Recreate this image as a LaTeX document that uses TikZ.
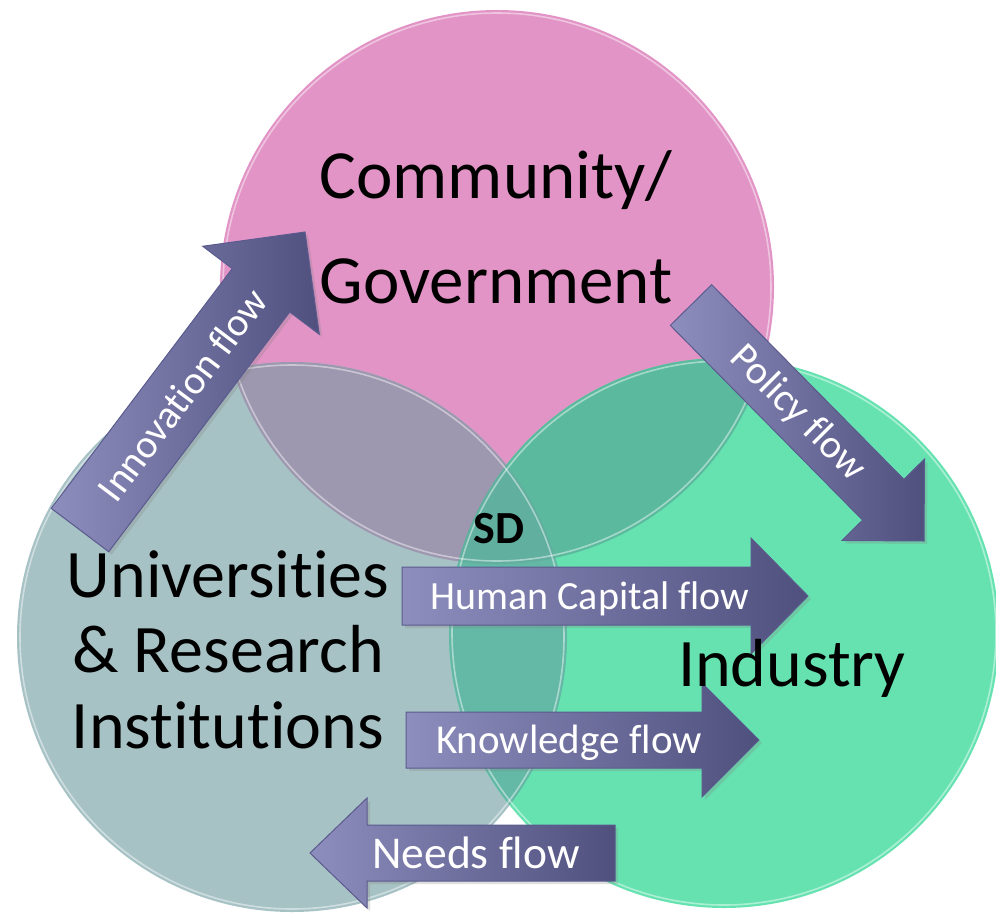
\documentclass[tikz,border=0pt]{standalone}
\usepackage{fontspec}
\setmainfont{Carlito}[Ligatures={NoCommon,NoContextual}]
\usepackage{tikz}
\usetikzlibrary{
    calc,
    shadows
}
\definecolor{commfill}{HTML}{E294C6}
\definecolor{univfill}{HTML}{A7C2C5}
\definecolor{indfill}{HTML}{66E2B1}
\definecolor{communiv}{HTML}{9D97AF}
\definecolor{commind}{HTML}{5BBA9E}
\definecolor{univind}{HTML}{64B8A6}
\definecolor{coreall}{HTML}{60AF9F}
\definecolor{flowlight}{HTML}{8E8EBE}
\definecolor{flowdark}{HTML}{50507F}
\definecolor{flowborder}{HTML}{5A5A8E}
\tikzset{
    flow arrow/.style={
        left color=flowlight, right color=flowdark,
        draw=flowborder, line width=1pt, line join=miter,
        drop shadow={opacity=0.25, shadow xshift=3pt, shadow yshift=-3pt}
    },
    flow label/.style={
        text=white, inner sep=0pt
    },
    sector label/.style={
        text=black, align=center, inner sep=0pt
    },
    rim/.style={
        draw=white, draw opacity=0.45, line width=1.6pt
    },
}
% block arrow from (<name> tail) to (<name> tip)
% #2 half shaft width, #3 half head width, #4 head length
\newcommand{\blockarrow}[4]{%
    \coordinate (#1 neck) at ($(#1 tip)!#4!(#1 tail)$);
    \path[flow arrow]
        ($(#1 tail)!#2!90:(#1 tip)$) -- ($(#1 neck)!#2!90:(#1 tip)$)
        -- ($(#1 neck)!#3!90:(#1 tip)$) -- (#1 tip)
        -- ($(#1 neck)!#3!-90:(#1 tip)$) -- ($(#1 neck)!#2!-90:(#1 tip)$)
        -- ($(#1 tail)!#2!-90:(#1 tip)$) -- cycle;
}

\begin{document}
\begin{tikzpicture}[x=1pt, y=-1pt]
    \useasboundingbox (0,0) rectangle (996,913);

    % the three sectors
    \coordinate (comm) at (497,287);
    \coordinate (univ) at (292,637);
    \coordinate (ind) at (724,633);

    \fill[commfill] (comm) circle[radius=277];
    \fill[univfill] (univ) circle[radius=275];
    \fill[indfill] (ind) circle[radius=275];

    % overlaps
    \begin{scope}
        \clip (univ) circle[radius=275];
        \fill[univind] (ind) circle[radius=275];
    \end{scope}
    \begin{scope}
        \clip (comm) circle[radius=277];
        \fill[communiv] (univ) circle[radius=275];
        \fill[commind] (ind) circle[radius=275];
        \clip (univ) circle[radius=275];
        \fill[coreall] (ind) circle[radius=275];
    \end{scope}

    % glossy edges
    \path[rim] (comm) circle[radius=274];
    \path[rim] (univ) circle[radius=272];
    \path[rim] (ind) circle[radius=272];

    % flows
    \coordinate (innov tail) at (80,530);
    \coordinate (innov tip) at (305,232);
    \coordinate (policy tail) at (691,305);
    \coordinate (policy tip) at (924,541);
    \coordinate (human tail) at (402,596);
    \coordinate (human tip) at (808,596);
    \coordinate (know tail) at (406,740);
    \coordinate (know tip) at (759,740);
    \coordinate (needs tail) at (615,853);
    \coordinate (needs tip) at (310,853);

    \blockarrow{innov}{36pt}{73pt}{73pt}
    \blockarrow{policy}{29pt}{58pt}{58pt}
    \blockarrow{human}{29pt}{58pt}{57pt}
    \blockarrow{know}{28pt}{57pt}{57pt}
    \blockarrow{needs}{28pt}{55pt}{57pt}

    \node[flow label, font=\fontsize{40}{48}\selectfont, rotate=53]
        (innov label) at ($(innov tail)!170pt!(innov tip)$) {Innovation flow};
    \node[flow label, font=\fontsize{40}{48}\selectfont, rotate=-45]
        (policy label) at ($(policy tail)!152pt!(policy tip)$) {Policy flow};
    \node[flow label, font=\fontsize{40}{48}\selectfont, anchor=base]
        (human label) at (590,609) {Human Capital flow};
    \node[flow label, font=\fontsize{41}{49}\selectfont, anchor=base]
        (know label) at (569,753) {Knowledge flow};
    \node[flow label, font=\fontsize{45.5}{54}\selectfont, anchor=base]
        (needs label) at (476,868) {Needs flow};

    % sector names
    \node[sector label, font=\fontsize{69}{105}\selectfont, anchor=base]
        (comm label) at (496,303) {Community/\\Government};
    \node[sector label, font=\fontsize{68}{75.5}\selectfont, anchor=base]
        (univ label) at (228,748) {Universities\\\& Research\\Institutions};
    \node[sector label, font=\fontsize{68}{80}\selectfont, anchor=base]
        (ind label) at (792,686) {Industry};
    \node[sector label, font=\fontsize{46}{54}\selectfont\bfseries, anchor=base]
        (sd label) at (499,543) {SD};
\end{tikzpicture}
\end{document}
